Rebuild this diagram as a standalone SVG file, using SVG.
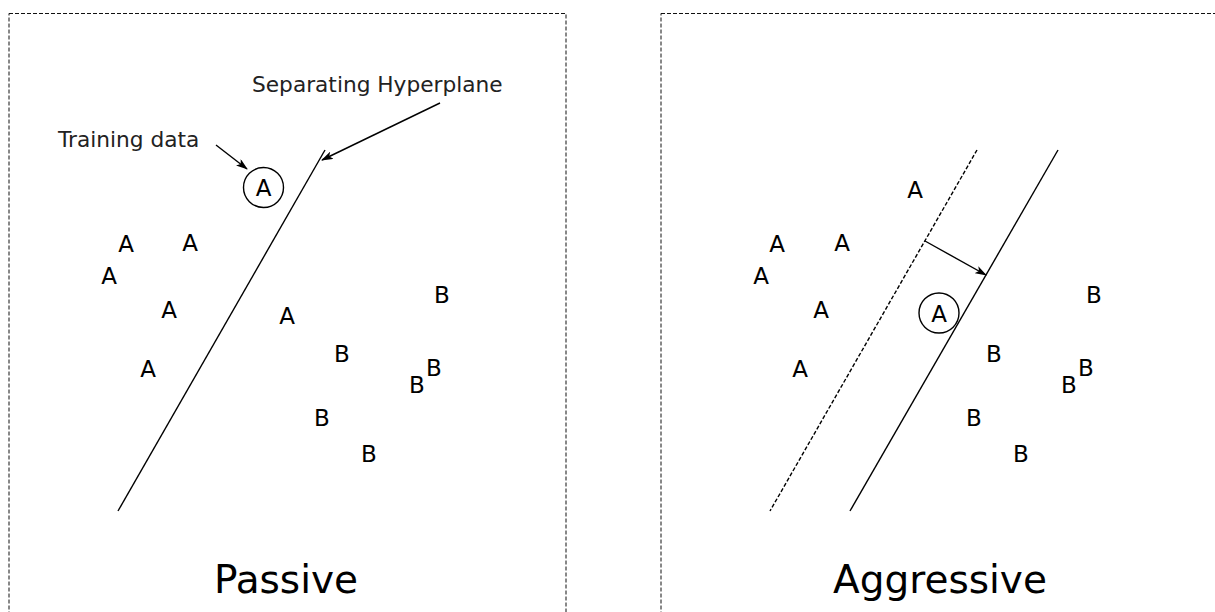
<svg xmlns="http://www.w3.org/2000/svg" width="1215" height="612" viewBox="0 0 1215 612">
  <style>
    .frame { fill: none; stroke: #111; stroke-width: 1; stroke-dasharray: 4 2; }
    .hp { stroke: #000; stroke-width: 1.4; fill: none; }
    .hpd { stroke: #000; stroke-width: 1.4; fill: none; stroke-dasharray: 4 2; }
    .arr { stroke: #000; stroke-width: 1.4; fill: none; marker-end: url(#ah); }
    .pt { font-family: "DejaVu Sans", sans-serif; font-size: 23px; fill: #000; text-anchor: middle; }
    .lbl { font-family: "DejaVu Sans", sans-serif; font-size: 21.7px; fill: #222; }
    .title { font-family: "DejaVu Sans", sans-serif; font-size: 39px; fill: #000; text-anchor: middle; }
    .ring { fill: none; stroke: #000; stroke-width: 1.4; }
  </style>
  <defs>
    <marker id="ah" viewBox="0 0 12 8" refX="11" refY="4" markerWidth="12" markerHeight="8" markerUnits="userSpaceOnUse" orient="auto">
      <path d="M0,0 L12,4 L0,8 L3,4 Z" fill="#000"/>
    </marker>
  </defs>
  <rect width="1215" height="612" fill="#fff"/>

  <g id="passive-panel">
    <rect class="frame" x="9" y="13.5" width="557" height="620"/>
    <text class="title" x="286" y="593">Passive</text>
  </g>
  <g id="aggressive-panel">
    <rect class="frame" x="661" y="13.5" width="620" height="620"/>
    <text class="title" x="940" y="593">Aggressive</text>
  </g>

  <g id="labels">
    <text class="lbl" x="252" y="92">Separating Hyperplane</text>
    <text class="lbl" x="58" y="147">Training data</text>
  </g>

  <g id="passive-points">
    <g id="p-train"><circle class="ring" cx="263.5" cy="187.5" r="20"/><text class="pt" x="263.5" y="196">A</text></g>
    <text class="pt" x="126" y="251.5">A</text>
    <text class="pt" x="190" y="250.5">A</text>
    <text class="pt" x="109" y="283.5">A</text>
    <text class="pt" x="169" y="317.5">A</text>
    <text class="pt" x="148" y="376.5">A</text>
    <text class="pt" x="287" y="323.5">A</text>
    <text class="pt" x="442" y="302.5">B</text>
    <text class="pt" x="342" y="361.5">B</text>
    <text class="pt" x="434" y="375.5">B</text>
    <text class="pt" x="417" y="392.5">B</text>
    <text class="pt" x="322" y="425.5">B</text>
    <text class="pt" x="369" y="461.5">B</text>
  </g>

  <g id="aggressive-points">
    <g id="a-train"><circle class="ring" cx="939" cy="313" r="20"/><text class="pt" x="939" y="321.5">A</text></g>
    <text class="pt" x="915" y="197.5">A</text>
    <text class="pt" x="777" y="251.5">A</text>
    <text class="pt" x="842" y="250.5">A</text>
    <text class="pt" x="761" y="283.5">A</text>
    <text class="pt" x="821" y="317.5">A</text>
    <text class="pt" x="800" y="376.5">A</text>
    <text class="pt" x="1094" y="302.5">B</text>
    <text class="pt" x="994" y="361.5">B</text>
    <text class="pt" x="1086" y="375.5">B</text>
    <text class="pt" x="1069" y="392.5">B</text>
    <text class="pt" x="974" y="425.5">B</text>
    <text class="pt" x="1021" y="461.5">B</text>
  </g>

  <g id="connectors">
    <line class="hp" x1="325" y1="150" x2="118" y2="511"/>
    <line class="arr" x1="440" y1="103" x2="322" y2="160"/>
    <line class="arr" x1="216" y1="145" x2="247" y2="169"/>
    <line class="hpd" x1="977" y1="150" x2="770" y2="511"/>
    <line class="hp" x1="1058" y1="150" x2="850" y2="511"/>
    <line class="arr" x1="925" y1="241" x2="986" y2="275"/>
  </g>
</svg>
